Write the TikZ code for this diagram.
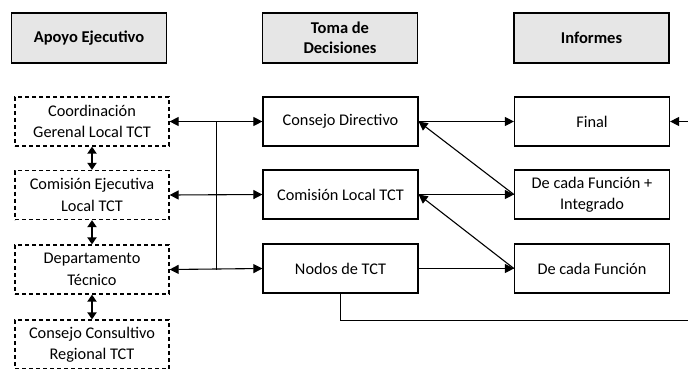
\documentclass[tikz,border=0pt]{standalone}
\usepackage{fontspec}
\setmainfont{Carlito}
\usetikzlibrary{arrows.meta}
\definecolor{hdrgray}{HTML}{E6E6E6}
\begin{document}
\begin{tikzpicture}[x=1pt,y=-1pt,
  txt/.style={font=\fontsize{16.3}{21.5}\selectfont, align=center, inner sep=0pt},
  hdr/.style={txt, draw, line width=1.4pt, fill=hdrgray, minimum width=155pt, minimum height=50pt, font=\bfseries\fontsize{16.5}{20.5}\selectfont},
  dbox/.style={txt, draw, dashed, dash pattern=on 4pt off 3pt, line width=1.2pt, minimum width=154pt, minimum height=49pt},
  sbox/.style={txt, draw, line width=1.2pt, minimum width=155pt, minimum height=49pt},
  conn/.style={line width=1.1pt, -{Triangle[length=9pt,width=9pt]}},
  bconn/.style={line width=1.1pt, {Triangle[length=9pt,width=9pt]}-{Triangle[length=9pt,width=9pt]}},
  vconn/.style={line width=1.8pt, {Triangle[length=7pt,width=9pt]}-{Triangle[length=7pt,width=9pt]}},
  plain/.style={line width=0.9pt}
]
\useasboundingbox (0,0) rectangle (688,368);
% headers
\node[hdr] (h1) at (89,38) {Apoyo Ejecutivo};
\node[hdr] (h2) at (340,38) {Toma de\\Decisiones};
\node[hdr] (h3) at (591.5,38) {Informes};
% left dashed boxes
\node[dbox] (c1) at (92,121.5) {Coordinación\\Gerenal Local TCT};
\node[dbox] (c2) at (92,195) {Comisión Ejecutiva\\Local TCT};
\node[dbox] (c3) at (92,269.5) {Departamento\\Técnico};
\node[dbox] (c4) at (92,344.5) {Consejo Consultivo\\Regional TCT};
% middle boxes
\node[sbox] (cd) at (340.5,121.5) {Consejo Directivo};
\node[sbox] (cl) at (340.5,194.5) {Comisión Local TCT};
\node[sbox] (nd) at (340.5,268.5) {Nodos de TCT};
% right boxes
\node[sbox] (fin) at (592,121.5) {Final};
\node[sbox] (int) at (592,194.5) {De cada Función +\\Integrado};
\node[sbox] (fn) at (592,268.5) {De cada Función};
% coordinates
\coordinate (j1) at (216,121.5);
\coordinate (j3) at (216,269.5);
\coordinate (offR) at (692,121.5);
\coordinate (bendA) at (nd.south |- 0,320);
\coordinate (offB) at (692,320);
% left vertical double arrows
\draw[vconn] (c1.south) -- (c2.north);
\draw[vconn] (c2.south) -- (c3.north);
\draw[vconn] (c3.south) -- (c4.north);
% left to middle
\draw[bconn] (c1.east) -- (cd.west);
\draw[bconn] (c2.east) -- (cl.west);
\draw[bconn] (c3.east) -- (nd.west);
\draw[plain] (j1) -- (j3);
% middle to right
\draw[conn] (cd.east) -- (fin.west);
\draw[conn] (cl.east) -- (int.west);
\draw[conn] (nd.east) -- (fn.west);
\draw[conn] (int.west) -- (cd.east);
\draw[conn] (fn.west) -- (cl.east);
% off-picture connections
\draw[conn] (offR) -- (fin.east);
\draw[plain] (nd.south) -- (bendA) -- (offB);
\end{tikzpicture}
\end{document}
